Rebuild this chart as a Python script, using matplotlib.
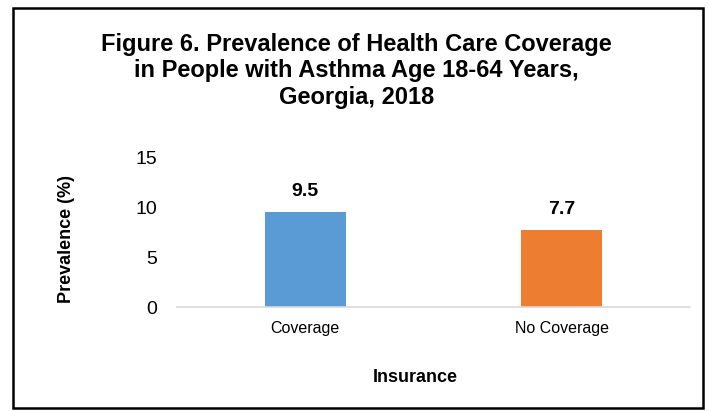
import matplotlib.pyplot as plt
from matplotlib.patches import Rectangle

plt.rcParams['font.family'] = ['Liberation Sans', 'DejaVu Sans']

categories = ['Coverage', 'No Coverage']
prevalence = [9.5, 7.7]
colors = ['#5B9BD5', '#ED7D31']
yticks = [0, 5, 10, 15]

fig = plt.figure(figsize=(7.09, 4.11), dpi=100)
W, H = 709, 411
ax = fig.add_axes([177 / W, 1 - 307 / H, 513 / W, 150 / H])

x = range(len(categories))
ax.bar(x, prevalence, width=0.316, color=colors)
for i, v in zip(x, prevalence):
    ax.text(i, v + 1.2, f'{v:.1f}', ha='center', va='bottom',
            fontsize=14, fontweight='bold')

ax.set_xlim(-0.5, 1.5)
ax.set_ylim(0, 15)
ax.set_yticks(yticks)
ax.set_xticks(list(x))
ax.set_xticklabels(categories, fontsize=11.5)
ax.tick_params(axis='y', labelsize=14, length=0, pad=14)
ax.tick_params(axis='x', length=0, pad=10)
for s in ['top', 'right', 'left']:
    ax.spines[s].set_visible(False)
ax.spines['bottom'].set_color('#d9d9d9')
ax.spines['bottom'].set_linewidth(1.2)

ax.set_xlabel('Insurance', fontsize=13, fontweight='bold')
ax.xaxis.set_label_coords(0.465, -0.415)
ax.set_ylabel('Prevalence (%)', fontsize=13, fontweight='bold')
ax.yaxis.set_label_coords(-0.198, 0.453)

fig.text(0.503, 1 - 71 / H,
         'Figure 6. Prevalence of Health Care Coverage\n'
         'in People with Asthma Age 18-64 Years,\nGeorgia, 2018',
         ha='center', va='center', fontsize=17, fontweight='bold',
         linespacing=1.18)

fig.patches.append(Rectangle((13 / W, 1 - 408 / H), 690 / W, 400 / H,
                             transform=fig.transFigure, fill=False,
                             edgecolor='black', linewidth=1.8))

fig.savefig('out.png', dpi=100)
